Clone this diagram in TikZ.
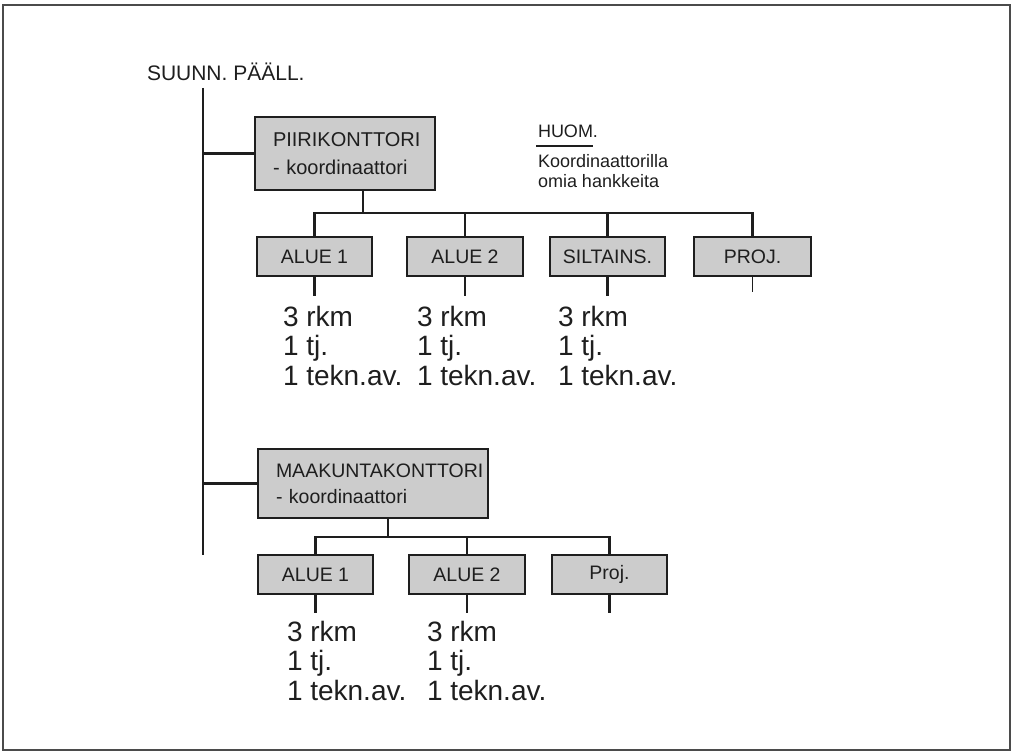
\documentclass[tikz,border=0pt]{standalone}
\usepackage{fontspec}
\setmainfont{Liberation Sans}
\usetikzlibrary{calc}
\definecolor{boxfill}{RGB}{204,204,204}
\definecolor{ink}{RGB}{30,30,30}
\begin{document}
\begin{tikzpicture}[x=1pt,y=-1pt,
  every node/.style={inner sep=0pt, outer sep=0pt, text=ink},
  conn/.style={draw=ink, line width=2.2pt},
  bigbox/.style={draw=ink, line width=2.8pt, fill=boxfill, anchor=north west,
     align=left, font=\fontsize{20}{28}\selectfont, inner xsep=18pt},
  smallbox/.style={draw=ink, line width=2.8pt, fill=boxfill, anchor=north west,
     align=center, font=\fontsize{19.5}{23}\selectfont},
  staff/.style={anchor=north west, align=left, font=\fontsize{28}{29.5}\selectfont},
  note/.style={anchor=west, font=\fontsize{18}{22}\selectfont}]
\useasboundingbox (0,0) rectangle (1015,754);
\draw[draw=ink!80, line width=1.5pt] (3,5) rectangle (1010,750);

\node[anchor=west, font=\fontsize{21}{24}\selectfont] (suunn) at (147,72) {SUUNN. PÄÄLL.};
\coordinate (t0) at (203,88);
\coordinate (t1) at (203,555);
\draw[conn] (t0) -- (t1);

% Piirikonttori
\node[bigbox, minimum width=180, minimum height=73, text width=144] (piiri) at (255,117)
  {PIIRIKONTTORI\\- koordinaattori};
\draw[conn] (piiri.west -| t0) -- (piiri.west);
\coordinate (pb) at (363,213);
\draw[conn] (pb |- piiri.south) -- (pb);

\node[smallbox, minimum width=115, minimum height=39] (a1) at (257,237) {ALUE 1};
\node[smallbox, minimum width=116, minimum height=39] (a2) at (407,237) {ALUE 2};
\node[smallbox, minimum width=115, minimum height=39] (si) at (550,237) {SILTAINS.};
\node[smallbox, minimum width=117, minimum height=39] (pr) at (694,237) {PROJ.};
\draw[conn] (a1.north) -- (a1.north |- pb) -- (pr.north |- pb) -- (pr.north);
\draw[conn] (a2.north) -- (a2.north |- pb);
\draw[conn] (si.north) -- (si.north |- pb);
\coordinate (a1e) at ($(a1.south)+(0,20)$);
\coordinate (a2e) at ($(a2.south)+(0,20)$);
\coordinate (sie) at ($(si.south)+(0,20)$);
\coordinate (pre) at ($(pr.south)+(0,16)$);
\draw[conn] (a1.south) -- (a1e);
\draw[conn] (a2.south) -- (a2e);
\draw[conn] (si.south) -- (sie);
\draw[draw=ink, line width=1.3pt] (pr.south) -- (pre);

\node[staff] (s1) at (283,306) {3 rkm\\1 tj.\\1 tekn.av.};
\node[staff] (s2) at (417,306) {3 rkm\\1 tj.\\1 tekn.av.};
\node[staff] (s3) at (558,306) {3 rkm\\1 tj.\\1 tekn.av.};

% Huom
\node[note] (huom) at (538,131) {HUOM.};
\coordinate (u0) at (536,146);
\coordinate (u1) at (593,146);
\draw[draw=ink, line width=1.5pt] (u0) -- (u1);
\node[note] (k1) at (538,161) {Koordinaattorilla};
\node[note] (k2) at (538,181) {omia hankkeita};

% Maakuntakonttori
\node[bigbox, minimum width=230, minimum height=69, text width=194, font=\fontsize{19.5}{26}\selectfont] (maak) at (258,449)
  {MAAKUNTAKONTTORI\\- koordinaattori};
\draw[conn] (maak.west -| t0) -- (maak.west);
\coordinate (mb) at (388,537);
\draw[conn] (mb |- maak.south) -- (mb);

\node[smallbox, minimum width=115, minimum height=39] (m1) at (258,555) {ALUE 1};
\node[smallbox, minimum width=116, minimum height=39] (m2) at (409,555) {ALUE 2};
\node[smallbox, minimum width=115, minimum height=39] (mp) at (552,555) {Proj.};
\draw[conn] (m1.north) -- (m1.north |- mb) -- (mp.north |- mb) -- (mp.north);
\draw[conn] (m2.north) -- (m2.north |- mb);
\coordinate (m1e) at ($(m1.south)+(0,19)$);
\coordinate (m2e) at ($(m2.south)+(0,19)$);
\coordinate (mpe) at ($(mp.south)+(0,19)$);
\draw[conn] (m1.south) -- (m1e);
\draw[conn] (m2.south) -- (m2e);
\draw[conn] (mp.south) -- (mpe);

\node[staff] (t1s) at (287,621) {3 rkm\\1 tj.\\1 tekn.av.};
\node[staff] (t2s) at (427,621) {3 rkm\\1 tj.\\1 tekn.av.};
\end{tikzpicture}
\end{document}
